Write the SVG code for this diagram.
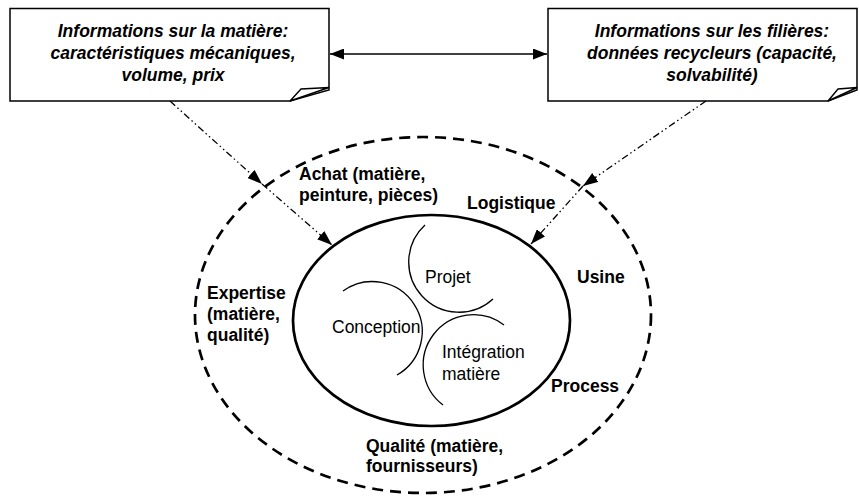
<svg xmlns="http://www.w3.org/2000/svg" width="859" height="497" viewBox="0 0 859 497">
<style>
  .box { fill: #fff; stroke: #000; stroke-width: 1.5; stroke-linejoin: miter; }
  .flap { fill: #fff; stroke: #000; stroke-width: 1.4; stroke-linejoin: miter; }
  .bt { font-family: "Liberation Sans", Arial, sans-serif; font-size: 17.5px; font-weight: bold; font-style: italic; text-anchor: middle; fill: #000; }
  .lb { font-family: "Liberation Sans", Arial, sans-serif; font-size: 17.5px; font-weight: bold; fill: #000; }
  .in { font-family: "Liberation Sans", Arial, sans-serif; font-size: 17.5px; fill: #000; }
  .ddd { fill: none; stroke: #000; stroke-width: 1.3; stroke-dasharray: 7 3 1.5 3 1.5 3; }
  .arc { fill: none; stroke: #000; stroke-width: 1.3; }
</style>
<defs>
  <marker id="ah" viewBox="0 0 15 11" refX="15" refY="5.5" markerWidth="15" markerHeight="11" markerUnits="userSpaceOnUse" orient="auto">
    <path d="M0,0 L15,5.5 L0,11 Z" fill="#000"/>
  </marker>
  <marker id="ah2" viewBox="0 0 14 11" refX="14" refY="5.5" markerWidth="14" markerHeight="11" markerUnits="userSpaceOnUse" orient="auto-start-reverse">
    <path d="M0,0 L14,5.5 L0,11 Z" fill="#000"/>
  </marker>
</defs>
<rect width="859" height="497" fill="#fff"/>

<g id="outer">
  <ellipse cx="423" cy="315" rx="228" ry="178" fill="none" stroke="#000" stroke-width="2.7" stroke-dasharray="11 7"/>
</g>

<g id="inner">
  <ellipse cx="431.5" cy="320.5" rx="138.5" ry="105.5" fill="none" stroke="#000" stroke-width="2.7"/>
  <path class="arc" d="M425,225 A50,50 0 1 0 493,299"/>
  <path class="arc" d="M343,291 A50,50 0 1 1 397,375"/>
  <path class="arc" d="M504,325 A50,50 0 1 0 443,405"/>
  <text class="in" x="425" y="283">Projet</text>
  <text class="in" x="332" y="333">Conception</text>
  <text class="in" x="442" y="358">Intégration</text>
  <text class="in" x="442" y="380">matière</text>
</g>

<g id="box-matiere">
  <path class="box" d="M10,8.5 H329 V90 L290,101 H10 Z"/>
  <path class="flap" d="M290,101 L301,89 L329,87.5 Z"/>
  <text class="bt" x="173" y="37">Informations sur la matière:</text>
  <text class="bt" x="173" y="59">caractéristiques mécaniques,</text>
  <text class="bt" x="173" y="81">volume, prix</text>
</g>

<g id="box-filieres">
  <path class="box" d="M548,8.5 H857 V90 L828,101 H548 Z"/>
  <path class="flap" d="M828,101 L838,89 L857,87.5 Z"/>
  <text class="bt" x="712" y="37">Informations sur les filières:</text>
  <text class="bt" x="712" y="59">données recycleurs (capacité,</text>
  <text class="bt" x="712" y="81">solvabilité)</text>
</g>

<g id="labels">
  <text class="lb" x="299" y="180">Achat (matière,</text>
  <text class="lb" x="299" y="201">peinture, pièces)</text>
  <text class="lb" x="467" y="209">Logistique</text>
  <text class="lb" x="577" y="283">Usine</text>
  <text class="lb" x="207" y="299">Expertise</text>
  <text class="lb" x="207" y="320">(matière,</text>
  <text class="lb" x="207" y="341">qualité)</text>
  <text class="lb" x="551" y="392">Process</text>
  <text class="lb" x="366" y="452">Qualité (matière,</text>
  <text class="lb" x="366" y="472">fournisseurs)</text>
</g>

<g id="connectors">
  <line x1="330" y1="54" x2="547" y2="54" stroke="#000" stroke-width="1.5" marker-start="url(#ah2)" marker-end="url(#ah2)"/>
  <line class="ddd" x1="170" y1="101" x2="262" y2="184" marker-end="url(#ah)"/>
  <line class="ddd" x1="262" y1="184" x2="332" y2="245" marker-end="url(#ah)"/>
  <line class="ddd" x1="706" y1="101" x2="583" y2="186" marker-end="url(#ah)"/>
  <line class="ddd" x1="583" y1="186" x2="531" y2="244" marker-end="url(#ah)"/>
</g>
</svg>
